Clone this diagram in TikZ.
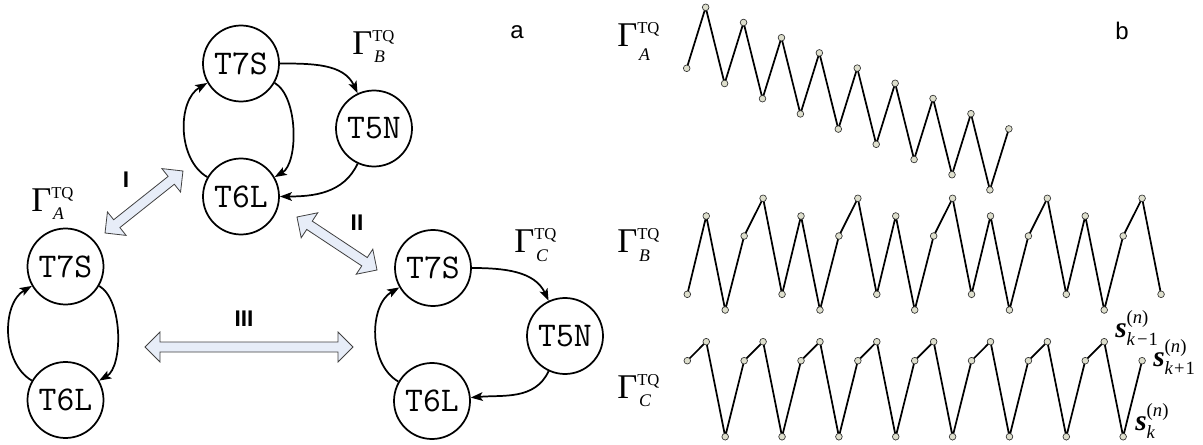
\documentclass[tikz,border=0pt]{standalone}
\usepackage{amsmath,amssymb}
\usepackage{fontspec}
\setsansfont{Liberation Sans}
\newfontfamily\tms{Liberation Serif}
\usepackage{tikz}
\usepackage{xcolor}
\usetikzlibrary{arrows.meta,positioning}

\definecolor{arrowfill}{RGB}{231,237,248}
\definecolor{dotfill}{RGB}{222,223,205}

\newcommand{\dblarr}[4]{%
  \draw[twoway,shift={(#1,#2)},rotate=#3] (-#4,0) -- (-#4+15,15) -- (-#4+15,5) -- (#4-15,5) -- (#4-15,15) -- (#4,0) -- (#4-15,-15) -- (#4-15,-5) -- (-#4+15,-5) -- (-#4+15,-15) -- cycle;}
\newcommand{\gtq}[2][6pt]{{\tms\fontsize{26}{28}\selectfont Γ\rlap{\raisebox{9.75pt}{\fontsize{12.5}{14}\selectfont TQ}}\raisebox{-#1}{\fontsize{13.3}{14}\selectfont\kern0.1em\itshape #2}}}
\newcommand{\skn}[1]{{\tms\fontsize{22}{24}\selectfont{\bfseries\itshape s}\rlap{\raisebox{10.5pt}{\fontsize{14}{16}\selectfont(\textit{n})}}\raisebox{-6pt}{\fontsize{14}{16}\selectfont #1}}}

\begin{document}
\begin{tikzpicture}[x=0.75pt,y=-0.75pt,
  state/.style={draw,circle,line width=1.3pt,minimum size=57pt,inner sep=0pt,font=\ttfamily\fontsize{26}{28}\selectfont},
  flow/.style={line width=1.3pt,-{Stealth[length=9pt,width=6.5pt,inset=2pt]}},
  twoway/.style={draw=black!75,fill=arrowfill,line width=0.6pt},
  gam/.style={inner sep=0pt,anchor=base west},
  roman/.style={inner sep=0pt,font=\sffamily\bfseries\fontsize{17}{20}\selectfont},
  panel/.style={inner sep=0pt,font=\sffamily\fontsize{18}{20}\selectfont},
  zig/.style={line width=1.3pt},
  dot/.style={draw=black!80,fill=dotfill,line width=0.5pt},
  slab/.style={inner sep=0pt}]
\useasboundingbox (0,0) rectangle (1203,445);

\node[state] (b7s) at (241,63.5) {T7S};
\node[state] (b5n) at (374,128.5) {T5N};
\node[state] (b6l) at (241,196.5) {T6L};
\node[state] (a7s) at (65.5,266.5) {T7S};
\node[state] (a6l) at (65.5,400) {T6L};
\node[state] (c7s) at (433,268) {T7S};
\node[state] (c5n) at (565,336) {T5N};
\node[state] (c6l) at (432,401) {T6L};

\draw[flow] (b7s) to[out=0,in=115] (b5n);
\draw[flow] (b7s) to[out=-30,in=30,looseness=0.75] (b6l);
\draw[flow] (b6l) to[out=150,in=210,looseness=0.95] (b7s);
\draw[flow] (b5n) to[out=-115,in=0] (b6l);
\draw[flow] (a7s) to[out=-30,in=30,looseness=0.75] (a6l);
\draw[flow] (a6l) to[out=150,in=210,looseness=0.95] (a7s);
\draw[flow] (c7s) to[out=0,in=115] (c5n);
\draw[flow] (c5n) to[out=-115,in=5] (c6l);
\draw[flow] (c6l) to[out=150,in=210,looseness=0.95] (c7s);

\node[gam] (lblB) at (352,55) {\gtq{B}};
\node[gam] (lblA) at (31,212) {\gtq{A}};
\node[gam] (lblC) at (514,253) {\gtq{C}};

\dblarr{144}{202}{38.5}{49.8}
\dblarr{337}{243.5}{-33.5}{48}
\dblarr{249}{347}{0}{104}
\node[roman] (rI) at (126,180) {I};
\node[roman] (rII) at (357,223) {II};
\node[roman] (rIII) at (244,319) {III};

\node[panel] (pa) at (517,32) {a};
\node[panel] (pb) at (1122,31) {b};

\node[gam] (plA) at (617,47) {\gtq[10pt]{A}};
\node[gam] (plB) at (617,253) {\gtq{B}};
\node[gam] (plC) at (617,398) {\gtq{C}};

\foreach \i in {0,...,17}{
  \pgfmathsetmacro\px{686.7+18.95*\i}
  \pgfmathsetmacro\py{68.3+7.6*\i-68.6*mod(\i,2)}
  \coordinate (gA\i) at (\px,\py);}
\foreach \i in {0,...,25}{
  \pgfmathsetmacro\px{687.3+18.95*\i}
  \pgfmathsetmacro\py{{294.3,216,310,236,198.3}[int(mod(\i,5))]}
  \coordinate (gB\i) at (\px,\py);}
\foreach \i in {0,...,24}{
  \pgfmathsetmacro\px{687.3+18.95*\i}
  \pgfmathsetmacro\py{{360.7,341.7,436.7}[int(mod(\i,3))]}
  \coordinate (gC\i) at (\px,\py);}

\draw[zig] (gA0) \foreach \i in {1,...,17}{ -- (gA\i)};
\draw[zig] (gB0) \foreach \i in {1,...,25}{ -- (gB\i)};
\draw[zig] (gC0) \foreach \i in {1,...,24}{ -- (gC\i)};
\foreach \i in {0,...,17} \draw[dot] (gA\i) circle[radius=2.5pt];
\foreach \i in {0,...,25} \draw[dot] (gB\i) circle[radius=2.5pt];
\foreach \i in {0,...,24} \draw[dot] (gC\i) circle[radius=2.5pt];

\node[slab,above right=3.5pt and 8.1pt of gC22,anchor=base west] (sprev) {\skn{\textit{k}\kern0.1em−\kern0.05em1}};
\node[slab,above right=-4.7pt and 8.2pt of gC24,anchor=base west] (snext) {\skn{\textit{k}\kern0.05em+\kern0.05em1}};
\node[slab,above right=4.3pt and 8.9pt of gC23,anchor=base west] (scur) {\skn{\textit{k}}};
\end{tikzpicture}
\end{document}
